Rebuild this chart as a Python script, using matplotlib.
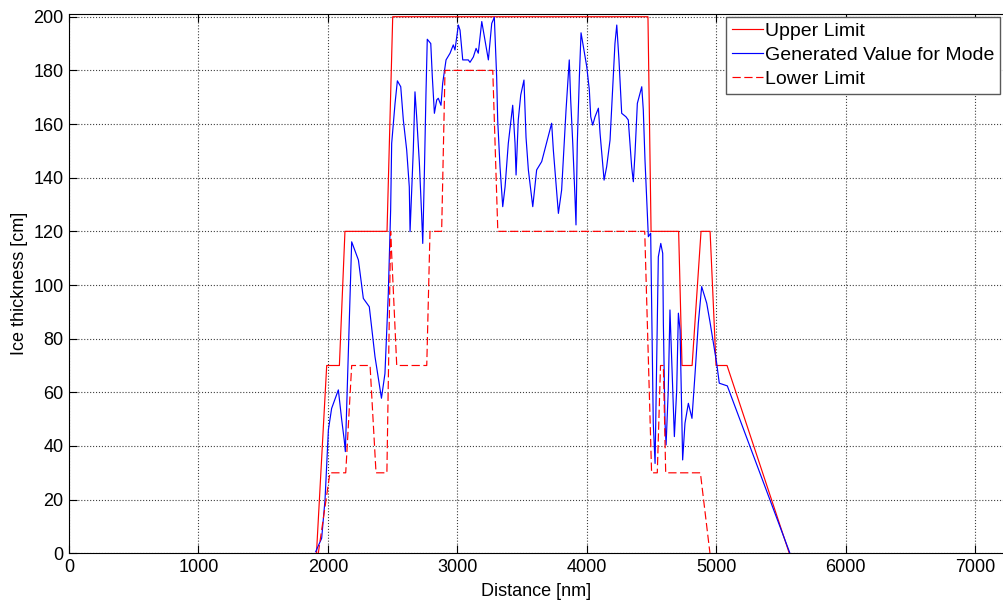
import matplotlib
matplotlib.use("Agg")
import matplotlib.pyplot as plt

plt.rcParams["font.family"] = ["Liberation Sans", "DejaVu Sans"]

# Upper limit of ice thickness [cm] vs distance [nm]
upper_x = [1912, 1991, 2089, 2132, 2457, 2501, 4473, 4497, 4710, 4736, 4814,
           4883, 4953, 4999, 5084, 5565]
upper_y = [0, 70, 70, 120, 120, 200, 200, 120, 120, 70, 70, 120, 120, 70, 70, 0]

# Lower limit
lower_x = [1926, 2016, 2138, 2184, 2326, 2372, 2456, 2485, 2532, 2764, 2789,
           2879, 2905, 3274, 3313, 4448, 4501, 4545, 4570, 4592, 4610, 4878, 4952]
lower_y = [0, 30, 30, 70, 70, 30, 30, 120, 70, 70, 120, 120, 180, 180, 120, 120,
           30, 30, 70, 70, 30, 30, 0]

# Generated value for mode
mode_x = [1906, 1952, 1978, 2004, 2029, 2081, 2107, 2127, 2135, 2184, 2236,
          2274, 2320, 2364, 2414, 2441, 2467, 2485, 2493, 2519, 2537, 2563,
          2583, 2609, 2629, 2635, 2648, 2660, 2673, 2686, 2707, 2725, 2733,
          2745, 2758, 2768, 2795, 2807, 2823, 2841, 2853, 2874, 2887, 2913,
          2944, 2969, 2982, 3008, 3021, 3042, 3085, 3098, 3124, 3145, 3162,
          3189, 3209, 3240, 3266, 3286, 3304, 3312, 3330, 3351, 3369, 3394,
          3428, 3446, 3454, 3471, 3490, 3515, 3531, 3549, 3583, 3613, 3652,
          3729, 3742, 3781, 3806, 3840, 3865, 3876, 3892, 3909, 3917, 3927,
          3943, 3956, 3974, 4000, 4020, 4031, 4046, 4064, 4090, 4103, 4116,
          4134, 4154, 4180, 4205, 4218, 4232, 4249, 4270, 4303, 4321, 4334,
          4347, 4360, 4373, 4391, 4425, 4437, 4450, 4476, 4494, 4514, 4528,
          4541, 4553, 4572, 4587, 4592, 4605, 4613, 4630, 4643, 4664, 4677,
          4695, 4708, 4721, 4734, 4741, 4759, 4785, 4813, 4837, 4862, 4888,
          4927, 4952, 5004, 5024, 5086, 5570]
mode_y = [0.6, 5.6, 19.9, 46, 54, 60.9, 49.7, 42, 37.9, 116.1, 109.3,
          95, 91.9, 73.3, 57.8, 67, 97, 128, 152.8, 167.7, 176.1, 173.9,
          161.5, 150.3, 136.6, 119.9, 135.4, 150.3, 172, 162.7, 145.4, 125.5, 115.5,
          140.4, 171.5, 191.6, 190, 177.6, 164, 169, 169.6, 167, 175.2, 183.9,
          186.4, 189.5, 187.6, 196.9, 195, 183.9, 183.9, 183, 185, 188.2, 186.4,
          198.2, 192.5, 183.9, 197.5, 199.8, 177.6, 161.5, 144.1, 129.2, 136.6, 152.8,
          167, 152.8, 141, 161.5, 170.8, 176.4, 155, 142.9, 129.2, 142.9, 146,
          160.3, 150.3, 126.7, 135.4, 165.2, 183.9, 169, 152.8, 132.9, 122.4, 152.8,
          177.6, 194, 188.8, 181.4, 172.7, 162.7, 159.6, 162.7, 165.9, 156.5, 149.1,
          139.1, 144.1, 154, 177.6, 190, 196.9, 183.9, 164, 162.7, 161.5, 152.8,
          144.1, 138.5, 149.1, 167.7, 173.9, 165.2, 146.6, 118, 119.3, 48.5, 33.5,
          73.3, 110.5, 115.5, 111.8, 85.7, 48.5, 40.4, 60.9, 90.7, 60.9, 43.5,
          60.9, 89.5, 83.2, 50.9, 34.8, 48.5, 55.9, 50.3, 67.1, 85.7, 99.4,
          93.2, 86.3, 70.8, 63.4, 62.4, 0]

x_ticks = list(range(0, 8000, 1000))
y_ticks = list(range(0, 220, 20))

fig = plt.figure(figsize=(10.04, 6.03), dpi=100)
ax = fig.add_axes([69 / 1004, 49.7 / 603, 934 / 1004, 539.8 / 603])

ax.plot(upper_x, upper_y, color="#ff0000", linewidth=0.85, label="Upper Limit")
ax.plot(mode_x, mode_y, color="#0000ff", linewidth=0.85, label="Generated Value for Mode")
ax.plot(lower_x, lower_y, color="#ff0000", linewidth=0.85, linestyle=(0, (7, 3)),
        label="Lower Limit")

ax.set_xlim(0, 7216)
ax.set_ylim(0, 201.2)
ax.set_xticks(x_ticks)
ax.set_yticks(y_ticks)
ax.tick_params(direction="in", top=True, right=False, length=6, width=0.8,
               labelsize=13, pad=4)
ax.grid(True, linestyle=":", color="0.25", linewidth=0.8)
ax.spines["right"].set_visible(False)
for side in ("left", "bottom", "top"):
    ax.spines[side].set_linewidth(0.8)

ax.set_xlabel("Distance [nm]", fontsize=13, labelpad=5)
ax.set_ylabel("Ice thickness [cm]", fontsize=13, labelpad=4)

leg = ax.legend(loc="upper right", bbox_to_anchor=(0.997, 0.994), borderaxespad=0,
                fontsize=14, fancybox=False, framealpha=1, edgecolor="0.35",
                handlelength=1.6, handletextpad=0.12, labelspacing=0.33,
                borderpad=0.3)
leg.get_frame().set_linewidth(1.0)

fig.savefig("out.png", dpi=100)
